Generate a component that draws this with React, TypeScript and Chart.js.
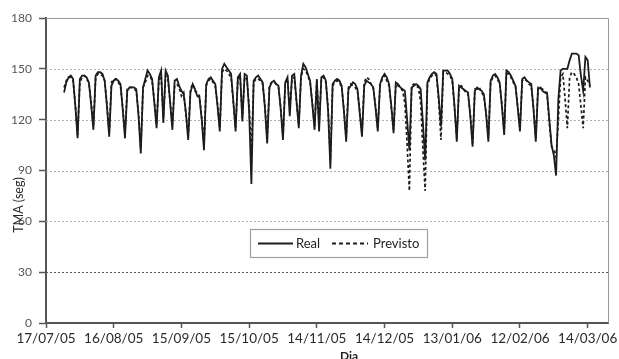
import React, { useEffect, useRef } from 'react';
import { Chart, registerables } from 'chart.js';

Chart.register(...registerables);

// x axis: days counted from 17/07/05, one tick label every 30 days
const xTickLabels = ['17/07/05', '16/08/05', '15/09/05', '15/10/05', '14/11/05', '14/12/05', '13/01/06', '12/02/06', '14/03/06'];
const xTickStep = 30;
const xMax = 249;
const yTicks = [0, 30, 60, 90, 120, 150, 180];
const seriesNames = ['Real', 'Previsto'];
const yTitle = 'TMA (seg)';
const xTitle = 'Dia';

// first daily value is Monday 25/07/05 (day 8); one row = Mon..Sun
const firstDay = 8;

const real = [
  136, 142, 145, 146, 144, 128, 109,
  144, 146, 146, 145, 142, 129, 114,
  146, 148, 148, 147, 143, 128, 110,
  140, 143, 144, 143, 141, 126, 109,
  137, 139, 139, 139, 138, 122, 100,
  139, 144, 149, 147, 144, 130, 115,
  145, 149, 118, 149, 146, 130, 114,
  143, 144, 140, 137, 135, 124, 108,
  136, 141, 138, 134, 133, 120, 102,
  141, 144, 145, 143, 141, 128, 113,
  150, 153, 151, 149, 147, 131, 113,
  145, 147, 119, 147, 146, 125, 82,
  143, 145, 146, 144, 142, 127, 106,
  139, 142, 143, 141, 140, 126, 108,
  142, 145, 122, 146, 147, 131, 115,
  146, 153, 151, 147, 143, 129, 114,
  144, 113, 145, 146, 143, 125, 91,
  141, 143, 144, 143, 140, 125, 107,
  138, 140, 142, 141, 138, 124, 110,
  140, 143, 142, 141, 139, 127, 113,
  141, 145, 147, 145, 141, 128, 112,
  142, 141, 139, 138, 137, 120, 102,
  139, 140, 141, 140, 138, 118, 96,
  142, 145, 147, 148, 147, 133, 116,
  149, 149, 149, 147, 144, 128, 107,
  140, 139, 138, 137, 136, 122, 104,
  137, 139, 138, 137, 135, 123, 107,
  143, 146, 147, 145, 142, 128, 111,
  149, 148, 146, 143, 140, 127, 113,
  144, 145, 143, 142, 141, 126, 107,
  138, 139, 137, 136, 136, 120, 105,
  99, 87, 132, 149, 150, 150, 150,
  155, 159, 159, 159, 158, 146, 137,
  157, 155, 139,
];

const previsto = [
  139, 143, 145, 145, 143, 129, 111,
  142, 145, 146, 144, 142, 130, 116,
  145, 147, 147, 146, 143, 129, 112,
  142, 144, 144, 142, 140, 127, 112,
  138, 139, 139, 138, 137, 124, 103,
  139, 142, 146, 146, 143, 131, 117,
  143, 146, 121, 146, 144, 131, 117,
  140, 141, 139, 134, 136, 123, 110,
  138, 141, 137, 136, 134, 121, 105,
  140, 143, 144, 142, 140, 129, 115,
  148, 150, 149, 147, 145, 130, 115,
  144, 146, 121, 145, 144, 128, 100,
  142, 144, 144, 143, 141, 128, 109,
  140, 142, 142, 141, 139, 127, 110,
  141, 144, 126, 144, 145, 130, 117,
  145, 150, 149, 146, 142, 130, 116,
  143, 117, 144, 145, 142, 127, 96,
  140, 142, 143, 142, 139, 126, 109,
  139, 141, 140, 139, 137, 125, 112,
  142, 145, 144, 141, 139, 128, 115,
  140, 144, 146, 143, 140, 127, 114,
  141, 140, 139, 137, 130, 105, 78,
  140, 141, 140, 139, 130, 102, 78,
  141, 144, 146, 147, 146, 131, 108,
  148, 148, 147, 146, 143, 127, 109,
  139, 140, 138, 136, 135, 123, 106,
  138, 138, 139, 136, 134, 124, 109,
  142, 145, 146, 144, 141, 129, 113,
  147, 147, 145, 142, 140, 128, 115,
  143, 144, 143, 141, 140, 127, 109,
  139, 139, 138, 137, 135, 118, 104,
  102, 98, 120, 145, 147, 132, 115,
  145, 148, 147, 145, 141, 128, 115,
  145, 143, 140,
];

const FONT = 'Lato, "Open Sans", "DejaVu Sans", sans-serif';
const LINE_COLOR = '#1c1c1c';
const PREV_DASH = [3, 2.5];

export default function App() {
  const ref = useRef<HTMLCanvasElement>(null);

  useEffect(() => {
    document.body.style.margin = '0';
    const canvas = ref.current;
    if (!canvas) return;

    const toPoints = (arr: number[]) => arr.map((v, i) => ({ x: firstDay + i, y: v }));

    const decor = {
      id: 'decor',
      beforeDatasetsDraw(chart: any) {
        const { ctx, chartArea: a, scales } = chart;
        const y = scales.y;
        ctx.save();
        ctx.lineWidth = 1;
        yTicks.forEach((v) => {
          if (v === yTicks[0] || v === yTicks[yTicks.length - 1]) return;
          const py = Math.round(y.getPixelForValue(v)) + 0.5;
          ctx.strokeStyle = v === 30 ? '#555' : '#b0b0b0';
          ctx.setLineDash([2, 2]);
          ctx.beginPath();
          ctx.moveTo(a.left, py);
          ctx.lineTo(a.right, py);
          ctx.stroke();
        });
        ctx.setLineDash([]);
        ctx.strokeStyle = '#9a9a9a';
        ctx.beginPath();
        ctx.moveTo(a.left, a.top + 0.5);
        ctx.lineTo(a.right + 0.5, a.top + 0.5);
        ctx.lineTo(a.right + 0.5, a.bottom);
        ctx.stroke();
        ctx.restore();
      },
      afterDraw(chart: any) {
        const { ctx } = chart;
        ctx.save();
        // y title
        ctx.translate(19, 205);
        ctx.rotate(-Math.PI / 2);
        ctx.font = `12.5px ${FONT}`;
        ctx.fillStyle = '#2a2a2a';
        ctx.textAlign = 'center';
        ctx.textBaseline = 'middle';
        ctx.fillText(yTitle, 0, 0);
        ctx.restore();

        ctx.save();
        ctx.font = `bold 12px ${FONT}`;
        ctx.fillStyle = '#222';
        ctx.textAlign = 'center';
        ctx.textBaseline = 'middle';
        ctx.fillText(xTitle, 349, 356);
        ctx.restore();

        // legend
        ctx.save();
        const bx = 250.5, by = 229.5, bw = 177, bh = 28;
        ctx.fillStyle = '#fff';
        ctx.fillRect(bx, by, bw, bh);
        ctx.strokeStyle = '#a0a0a0';
        ctx.lineWidth = 1.2;
        ctx.strokeRect(bx, by, bw, bh);
        const ly = by + bh / 2;
        ctx.strokeStyle = LINE_COLOR;
        ctx.lineWidth = 1.8;
        ctx.beginPath();
        ctx.moveTo(258, ly);
        ctx.lineTo(293, ly);
        ctx.stroke();
        ctx.setLineDash([4, 3]);
        ctx.beginPath();
        ctx.moveTo(332, ly);
        ctx.lineTo(368, ly);
        ctx.stroke();
        ctx.setLineDash([]);
        ctx.font = `13px ${FONT}`;
        ctx.fillStyle = '#222';
        ctx.textAlign = 'left';
        ctx.textBaseline = 'middle';
        ctx.fillText(seriesNames[0], 296, ly);
        ctx.fillText(seriesNames[1], 373, ly);
        ctx.restore();
      },
    };

    const chart = new Chart(canvas, {
      type: 'line',
      data: {
        datasets: [
          {
            label: seriesNames[0],
            data: toPoints(real),
            borderColor: LINE_COLOR,
            borderWidth: 1.8,
            pointRadius: 0,
            tension: 0,
            fill: false,
          },
          {
            label: seriesNames[1],
            data: toPoints(previsto),
            borderColor: LINE_COLOR,
            borderWidth: 1.7,
            borderDash: PREV_DASH,
            pointRadius: 0,
            tension: 0,
            fill: false,
          },
        ],
      },
      options: {
        responsive: false,
        animation: false,
        devicePixelRatio: 1,
        layout: { padding: { top: 18, right: 11, left: 0, bottom: 0 } },
        plugins: { legend: { display: false }, tooltip: { enabled: false }, title: { display: false } },
        scales: {
          x: {
            type: 'linear',
            min: 0,
            max: xMax,
            afterBuildTicks: (s: any) => {
              s.ticks = xTickLabels.map((_, i) => ({ value: i * xTickStep }));
            },
            afterFit: (s: any) => {
              s.height = 36;
              s.paddingLeft = 0;
              s.paddingRight = 0;
            },
            ticks: {
              autoSkip: false,
              maxRotation: 0,
              minRotation: 0,
              padding: 3,
              color: '#2a2a2a',
              font: { family: FONT, size: 13.5 },
              callback: (v: any) => xTickLabels[Math.round(Number(v) / xTickStep)] ?? '',
            },
            grid: { drawOnChartArea: false, drawTicks: true, tickLength: 5, tickColor: '#555', tickWidth: 1.5 },
            border: { display: true, color: '#555', width: 2 },
          },
          y: {
            min: 0,
            max: 180,
            afterBuildTicks: (s: any) => {
              s.ticks = yTicks.map((v) => ({ value: v }));
            },
            afterFit: (s: any) => {
              s.width = 46;
            },
            ticks: {
              padding: 7,
              color: '#555',
              font: { family: FONT, size: 12 },
            },
            grid: { drawOnChartArea: false, drawTicks: true, tickLength: 7, tickColor: '#555', tickWidth: 1.5 },
            border: { display: true, color: '#555', width: 2 },
          },
        },
      },
      plugins: [decor],
    });

    return () => chart.destroy();
  }, []);

  return <canvas ref={ref} width={619} height={359} style={{ display: 'block' }} />;
}
